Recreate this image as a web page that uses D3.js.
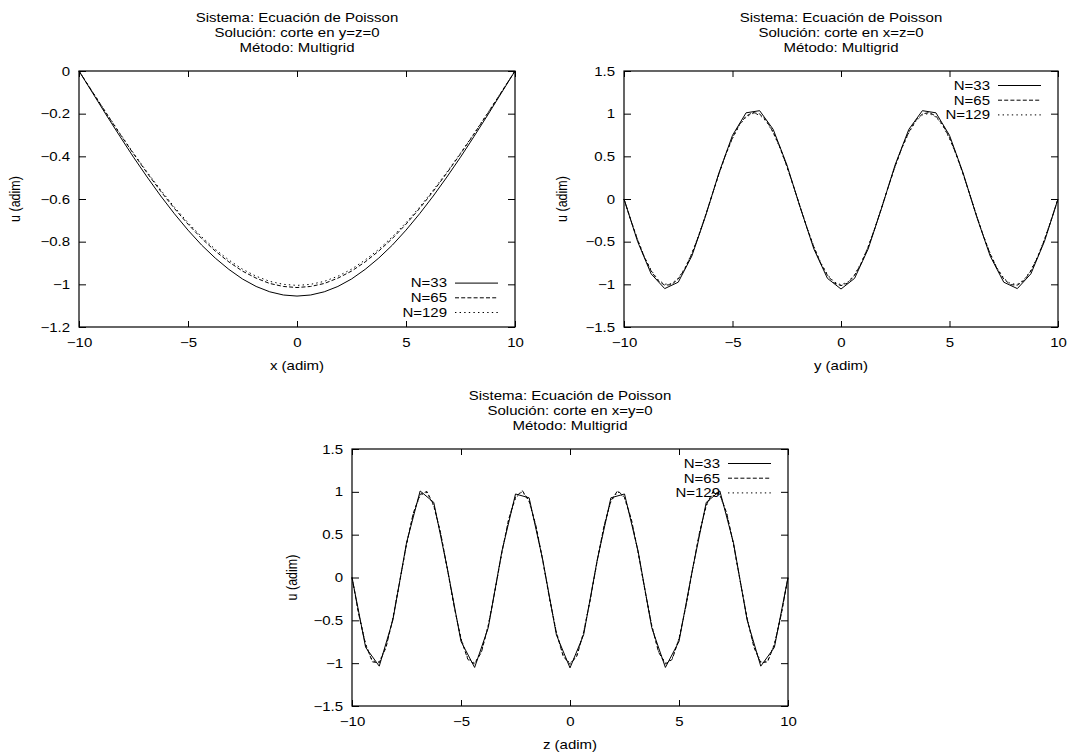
<!DOCTYPE html>
<html><head><meta charset="utf-8">
<script src="https://cdn.jsdelivr.net/npm/d3@7"></script>
<style>
body{margin:0;background:#fff}
svg{display:block}
text{font-family:"Liberation Sans",Arial,Helvetica,sans-serif;fill:#000}
</style>
</head><body>
<svg id="c" width="1074" height="754"></svg>
<script>
// ---------- DATA ----------
const grid33 = [-10,-9.375,-8.75,-8.125,-7.5,-6.875,-6.25,-5.625,-5,-4.375,-3.75,-3.125,-2.5,-1.875,-1.25,-0.625,0,0.625,1.25,1.875,2.5,3.125,3.75,4.375,5,5.625,6.25,6.875,7.5,8.125,8.75,9.375,10];
const grid65 = [-10,-9.6875,-9.375,-9.0625,-8.75,-8.4375,-8.125,-7.8125,-7.5,-7.1875,-6.875,-6.5625,-6.25,-5.9375,-5.625,-5.3125,-5,-4.6875,-4.375,-4.0625,-3.75,-3.4375,-3.125,-2.8125,-2.5,-2.1875,-1.875,-1.5625,-1.25,-0.9375,-0.625,-0.3125,0,0.3125,0.625,0.9375,1.25,1.5625,1.875,2.1875,2.5,2.8125,3.125,3.4375,3.75,4.0625,4.375,4.6875,5,5.3125,5.625,5.9375,6.25,6.5625,6.875,7.1875,7.5,7.8125,8.125,8.4375,8.75,9.0625,9.375,9.6875,10];

const seriesNames = ["N=33","N=65","N=129"];

// Panel 1: cut along x (y=z=0)
const xcutN33 = [0,-0.103,-0.206,-0.306,-0.404,-0.497,-0.586,-0.669,-0.746,-0.816,-0.877,-0.930,-0.975,-1.010,-1.035,-1.050,-1.055,-1.050,-1.035,-1.010,-0.975,-0.930,-0.877,-0.816,-0.746,-0.669,-0.586,-0.497,-0.404,-0.306,-0.206,-0.103,0];
const xcutN65 = [0,-0.099,-0.198,-0.295,-0.388,-0.478,-0.564,-0.644,-0.718,-0.785,-0.844,-0.895,-0.938,-0.971,-0.996,-1.010,-1.015,-1.010,-0.996,-0.971,-0.938,-0.895,-0.844,-0.785,-0.718,-0.644,-0.564,-0.478,-0.388,-0.295,-0.198,-0.099,0];
const xcutN129 = [0,-0.099,-0.196,-0.292,-0.385,-0.474,-0.558,-0.638,-0.711,-0.777,-0.836,-0.886,-0.929,-0.962,-0.986,-1.000,-1.005,-1.000,-0.986,-0.962,-0.929,-0.886,-0.836,-0.777,-0.711,-0.638,-0.558,-0.474,-0.385,-0.292,-0.196,-0.099,0];

// Panel 2: cut along y (x=z=0)
const ycutN33 = [0,-0.497,-0.877,-1.050,-0.975,-0.669,-0.206,0.306,0.746,1.010,1.035,0.816,0.404,-0.103,-0.586,-0.930,-1.055,-0.930,-0.586,-0.103,0.404,0.816,1.035,1.010,0.746,0.306,-0.206,-0.669,-0.975,-1.050,-0.877,-0.497,0];
const ycutN65 = [0,-0.247,-0.479,-0.682,-0.844,-0.956,-1.010,-1.004,-0.938,-0.815,-0.644,-0.434,-0.198,0.050,0.295,0.522,0.718,0.871,0.971,1.014,0.996,0.918,0.785,0.605,0.388,0.149,-0.099,-0.342,-0.564,-0.752,-0.895,-0.985,-1.015,-0.985,-0.895,-0.752,-0.564,-0.342,-0.099,0.149,0.388,0.605,0.785,0.918,0.996,1.014,0.971,0.871,0.718,0.522,0.295,0.050,-0.198,-0.434,-0.644,-0.815,-0.938,-1.004,-1.010,-0.956,-0.844,-0.682,-0.479,-0.247,0];
const ycutN129 = [0,-0.244,-0.473,-0.674,-0.835,-0.945,-0.999,-0.993,-0.928,-0.806,-0.637,-0.429,-0.196,0.049,0.291,0.516,0.710,0.861,0.961,1.003,0.985,0.908,0.776,0.598,0.384,0.147,-0.098,-0.338,-0.558,-0.744,-0.886,-0.974,-1.004,-0.974,-0.886,-0.744,-0.558,-0.338,-0.098,0.147,0.384,0.598,0.776,0.908,0.985,1.003,0.961,0.861,0.710,0.516,0.291,0.049,-0.196,-0.429,-0.637,-0.806,-0.928,-0.993,-0.999,-0.945,-0.835,-0.674,-0.473,-0.244,0];

// Panel 3: cut along z (x=y=0)
const zcutN33 = [0,-0.816,-1.035,-0.497,0.404,1.010,0.877,0.103,-0.746,-1.050,-0.586,0.306,0.975,0.930,0.206,-0.669,-1.055,-0.669,0.206,0.930,0.975,0.306,-0.586,-1.050,-0.746,0.103,0.877,1.010,0.404,-0.497,-1.035,-0.816,0];
const zcutN65 = [0,-0.434,-0.785,-0.985,-0.996,-0.815,-0.479,-0.050,0.388,0.752,0.971,1.004,0.844,0.522,0.099,-0.342,-0.718,-0.956,-1.010,-0.871,-0.564,-0.149,0.295,0.682,0.938,1.014,0.895,0.605,0.198,-0.247,-0.644,-0.918,-1.015,-0.918,-0.644,-0.247,0.198,0.605,0.895,1.014,0.938,0.682,0.295,-0.149,-0.564,-0.871,-1.010,-0.956,-0.718,-0.342,0.099,0.522,0.844,1.004,0.971,0.752,0.388,-0.050,-0.479,-0.815,-0.996,-0.985,-0.785,-0.434,0];
const zcutN129 = [0,-0.429,-0.776,-0.974,-0.985,-0.806,-0.473,-0.049,0.384,0.744,0.961,0.993,0.835,0.516,0.098,-0.338,-0.710,-0.945,-0.999,-0.861,-0.558,-0.147,0.291,0.674,0.928,1.003,0.885,0.598,0.196,-0.244,-0.637,-0.908,-1.004,-0.908,-0.637,-0.244,0.196,0.598,0.885,1.003,0.928,0.674,0.291,-0.147,-0.558,-0.861,-0.999,-0.945,-0.710,-0.338,0.098,0.516,0.835,0.993,0.961,0.744,0.384,-0.049,-0.473,-0.806,-0.985,-0.974,-0.776,-0.429,0];

const titleLines1 = ["Sistema: Ecuación de Poisson","Solución: corte en y=z=0","Método: Multigrid"];
const titleLines2 = ["Sistema: Ecuación de Poisson","Solución: corte en x=z=0","Método: Multigrid"];
const titleLines3 = ["Sistema: Ecuación de Poisson","Solución: corte en x=y=0","Método: Multigrid"];
const xLabels = ["x (adim)","y (adim)","z (adim)"];
const yLabel = "u (adim)";

const xTicks = [-10,-5,0,5,10];
const xTickLabels = ["\u221210","\u22125","0","5","10"];
const yTicks1 = [0,-0.2,-0.4,-0.6,-0.8,-1,-1.2];
const yTickLabels1 = ["0","\u22120.2","\u22120.4","\u22120.6","\u22120.8","\u22121","\u22121.2"];
const yTicks23 = [1.5,1,0.5,0,-0.5,-1,-1.5];
const yTickLabels23 = ["1.5","1","0.5","0","\u22120.5","\u22121","\u22121.5"];

// ---------- LAYOUT ----------
const FS = 12.5, SX = 1.2;
const dashes = [null, "4,2.2", "1.4,3.2"];
const panels = [
  {L:79, R:515, T:71, B:327, ydom:[-1.2,0], yt:yTicks1, ytl:yTickLabels1, title:titleLines1, xl:xLabels[0], ylx:15, legend:"bottom",
   series:[[grid33,xcutN33],[grid33,xcutN65],[grid33,xcutN129]]},
  {L:624, R:1058, T:71, B:327, ydom:[-1.5,1.5], yt:yTicks23, ytl:yTickLabels23, title:titleLines2, xl:xLabels[1], ylx:562, legend:"top",
   series:[[grid33,ycutN33],[grid65,ycutN65],[grid65,ycutN129]]},
  {L:352, R:788, T:449, B:706, ydom:[-1.5,1.5], yt:yTicks23, ytl:yTickLabels23, title:titleLines3, xl:xLabels[2], ylx:292, legend:"top",
   series:[[grid33,zcutN33],[grid65,zcutN65],[grid65,zcutN129]]}
];

const svg = d3.select("#c");
svg.append("rect").attr("width",1074).attr("height",754).attr("fill","#fff");

function label(g, x, y, s, anchor, rot) {
  return g.append("text")
    .attr("transform", `translate(${x},${y}) scale(${SX},1)` + (rot ? " rotate(-90)" : ""))
    .attr("text-anchor", anchor).attr("dy","0.35em").attr("font-size",FS).text(s);
}

panels.forEach(p => {
  const g = svg.append("g");
  const x = d3.scaleLinear().domain([-10,10]).range([p.L,p.R]);
  const y = d3.scaleLinear().domain(p.ydom).range([p.B,p.T]);

  const styleAxis = a => {
    a.select(".domain").remove();
    a.attr("font-size",FS).attr("font-family",'"Liberation Sans",Arial,Helvetica,sans-serif');
    a.selectAll("line").attr("stroke","#000").attr("stroke-width",1);
    a.selectAll("text").attr("fill","#000");
  };
  const ab = g.append("g").attr("transform",`translate(0,${p.B})`)
    .call(d3.axisBottom(x).tickValues(xTicks).tickFormat((d,i)=>xTickLabels[i]).tickSizeInner(-6).tickSizeOuter(0).tickPadding(11));
  styleAxis(ab);
  ab.selectAll("text").attr("transform",`scale(${SX},1)`);
  const at = g.append("g").attr("transform",`translate(0,${p.T})`)
    .call(d3.axisTop(x).tickValues(xTicks).tickFormat("").tickSizeInner(-6).tickSizeOuter(0));
  styleAxis(at);
  const al = g.append("g").attr("transform",`translate(${p.L},0)`)
    .call(d3.axisLeft(y).tickValues(p.yt).tickFormat((d,i)=>p.ytl[i]).tickSizeInner(-7).tickSizeOuter(0).tickPadding(9));
  styleAxis(al);
  al.selectAll("text").attr("x",-9/SX).attr("transform",`scale(${SX},1)`);
  const ar = g.append("g").attr("transform",`translate(${p.R},0)`)
    .call(d3.axisRight(y).tickValues(p.yt).tickFormat("").tickSizeInner(-7).tickSizeOuter(0));
  styleAxis(ar);

  g.append("rect").attr("x",p.L).attr("y",p.T).attr("width",p.R-p.L).attr("height",p.B-p.T)
    .attr("fill","none").attr("stroke","#000").attr("stroke-width",1.2);

  const line = d3.line().x(d=>x(d[0])).y(d=>y(d[1]));
  p.series.forEach((s,i) => {
    const pts = s[0].map((v,k)=>[v,s[1][k]]);
    g.append("path").datum(pts).attr("d",line).attr("fill","none").attr("stroke","#000")
      .attr("stroke-width",1).attr("stroke-dasharray",dashes[i]);
  });

  seriesNames.forEach((n,i) => {
    const ly = p.legend === "bottom" ? p.B - 14.5 - 14.7*(2-i) : p.T + 14.5 + 14.7*i;
    label(g, p.R-68, ly, n, "end");
    g.append("line").attr("x1",p.R-60).attr("x2",p.R-17).attr("y1",ly).attr("y2",ly)
      .attr("stroke","#000").attr("stroke-width",1).attr("stroke-dasharray",dashes[i]);
  });

  const cx = (p.L+p.R)/2;
  p.title.forEach((s,i) => label(g, cx, p.T-53+15*i, s, "middle"));
  label(g, cx, p.B+38.7, p.xl, "middle");
  label(g, p.ylx, (p.T+p.B)/2, yLabel, "middle", true);
});
</script>
</body></html>
